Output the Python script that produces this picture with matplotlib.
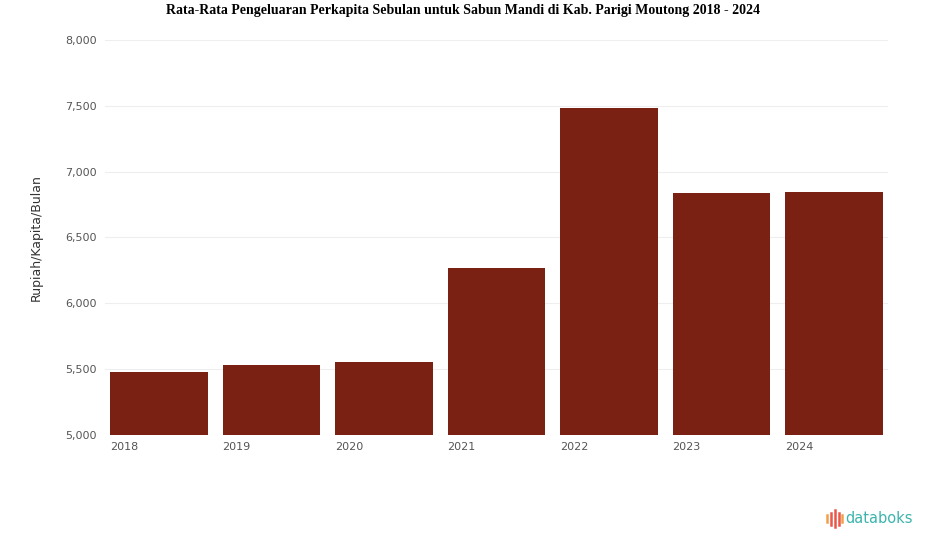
import matplotlib.pyplot as plt
from matplotlib.ticker import FuncFormatter

years = ['2018', '2019', '2020', '2021', '2022', '2023', '2024']
pengeluaran = [5480, 5530, 5555, 6270, 7485, 6840, 6845]
y_ticks = [5000, 5500, 6000, 6500, 7000, 7500, 8000]

bar_color = '#7a2113'

fig = plt.figure(figsize=(9.25, 5.47), dpi=100)
ax = fig.add_axes([0.1135, 0.205, 0.8465, 0.722])

x = list(range(len(years)))
bar_w = 0.87
ax.bar(x, pengeluaran, width=bar_w, color=bar_color, zorder=2)

ax.set_ylim(y_ticks[0], y_ticks[-1])
ax.set_xlim(-0.48, len(years) - 1 + 0.48)
ax.set_yticks(y_ticks)
ax.yaxis.set_major_formatter(FuncFormatter(lambda v, p: f'{int(v):,}'))
ax.grid(axis='y', color='#eeeeee', linewidth=0.8, zorder=0)

# year labels sit under the left edge of each bar
ax.set_xticks([i - bar_w / 2 for i in x])
ax.set_xticklabels(years, ha='left')

ax.tick_params(axis='both', length=0, labelsize=8, colors='#555555', pad=6)
ax.tick_params(axis='x', pad=5)
for s in ax.spines.values():
    s.set_visible(False)

ax.set_ylabel('Rupiah/Kapita/Bulan', fontsize=9, color='#333333', labelpad=16)

fig.text(0.5, 0.980, 'Rata-Rata Pengeluaran Perkapita Sebulan untuk Sabun Mandi di Kab. Parigi Moutong 2018 - 2024',
         ha='center', va='center', fontsize=10, fontweight='bold', family='Liberation Serif')

# databoks logo
logo_x = [0.8945, 0.8985, 0.9025, 0.9065, 0.9105]
logo_h = [0.012, 0.022, 0.030, 0.022, 0.014]
logo_c = ['#f0a04b', '#e8574a', '#e8574a', '#e8574a', '#f0a04b']
for lx, lh, lc in zip(logo_x, logo_h, logo_c):
    fig.add_artist(plt.Line2D([lx, lx], [0.052 - lh / 2, 0.052 + lh / 2], color=lc, linewidth=1.8,
                              transform=fig.transFigure))
fig.text(0.914, 0.052, 'databoks', ha='left', va='center', fontsize=10.5, color='#3cb4ae', family='DejaVu Sans')

fig.savefig('out.png', dpi=100, facecolor='white')
